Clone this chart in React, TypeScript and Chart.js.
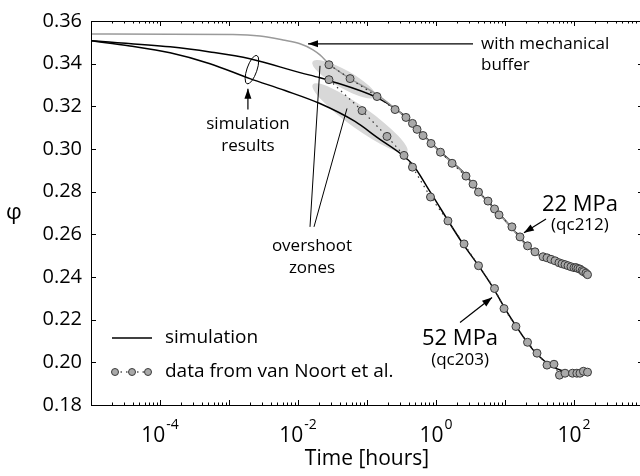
import React, { useEffect, useRef } from "react";
import { Chart, registerables } from "chart.js";
Chart.register(...registerables);

const FONT = "'Open Sans', 'DejaVu Sans', sans-serif";

// ---- data (time in hours, porosity phi) ----
const sim22T = [1e-5, 1.4e-4, 5.31e-4, 2.01e-3, 0.0107, 0.0208, 0.0291, 0.1396, 0.2548, 0.449, 0.649, 1.14, 2.63, 4.34, 7.16, 12.6, 21.5, 35.6, 62.6, 96.8, 154];
const sim22Phi = [0.3507, 0.3479, 0.3455, 0.3423, 0.3358, 0.3334, 0.332, 0.3241, 0.319, 0.3124, 0.3068, 0.2989, 0.2882, 0.2793, 0.2719, 0.263, 0.2542, 0.249, 0.2462, 0.2444, 0.2425];

const sim52T = [1e-5, 3.67e-5, 1.4e-4, 5.31e-4, 2.01e-3, 6.49e-3, 0.0208, 0.067, 0.154, 0.301, 0.464, 0.819, 2.46, 4.13, 6.82, 10, 14.9, 21.5, 30.1, 44.9, 69.3, 100, 171];
const sim52Phi = [0.3507, 0.3483, 0.3451, 0.34, 0.333, 0.3274, 0.3213, 0.3129, 0.3045, 0.298, 0.2925, 0.28, 0.2555, 0.2453, 0.2346, 0.2252, 0.2164, 0.2089, 0.2033, 0.1987, 0.1959, 0.1949, 0.1949];

const bufferT = [1e-5, 1.14e-3, 2.81e-3, 6.07e-3, 0.0107, 0.0165, 0.0208, 0.0291, 0.0568, 0.1396, 0.2548, 0.449, 0.649, 1.14, 2.63, 4.34, 7.16, 12.6, 21.5, 35.6, 62.6, 96.8, 157];
const bufferPhi = [0.3539, 0.3537, 0.353, 0.3511, 0.3493, 0.3465, 0.3441, 0.3395, 0.333, 0.3255, 0.319, 0.3122, 0.3066, 0.2987, 0.288, 0.2791, 0.2717, 0.2628, 0.254, 0.249, 0.2465, 0.245, 0.2439];

const qc212T = [0.0281, 0.0568, 0.1396, 0.255, 0.367, 0.456, 0.531, 0.649, 0.847, 1.16, 1.71, 2.72, 3.44, 4.13, 5.67, 7.05, 8.19, 12.6, 16.5, 21.2, 27.2, 35.6, 40.6, 46.4, 53.1, 60.6, 67.0, 74.1, 81.9, 90.5, 100, 107, 114, 122, 131, 137, 149, 157];
const qc212Phi = [0.3395, 0.333, 0.3246, 0.3185, 0.3148, 0.312, 0.3092, 0.3063, 0.3026, 0.2985, 0.2933, 0.2873, 0.2835, 0.2798, 0.2756, 0.2719, 0.2691, 0.2635, 0.2588, 0.2546, 0.2518, 0.2495, 0.249, 0.2483, 0.2476, 0.2467, 0.2462, 0.2458, 0.2453, 0.2448, 0.2444, 0.2444, 0.244, 0.2437, 0.243, 0.2425, 0.2418, 0.2411];

const qc203T = [0.0281, 0.0848, 0.195, 0.344, 0.456, 0.832, 1.49, 2.55, 4.13, 7.05, 9.68, 14.4, 21.2, 29.1, 40.6, 51.3, 61.6, 74.1, 95.1, 110, 122, 137, 157];
const qc203Phi = [0.3325, 0.318, 0.3059, 0.297, 0.2915, 0.2775, 0.2663, 0.2555, 0.2453, 0.2346, 0.2252, 0.2168, 0.2094, 0.2043, 0.1987, 0.1991, 0.194, 0.1949, 0.1949, 0.1949, 0.1949, 0.1958, 0.1954];

const yTickValues = [0.18, 0.2, 0.22, 0.24, 0.26, 0.28, 0.3, 0.32, 0.34, 0.36];
const xTickExponents = [-4, -2, 0, 2];
const xAxisTitle = "Time [hours]";
const yAxisTitle = "φ";

const pts = (t: number[], p: number[]) => t.map((v, i) => ({ x: v, y: p[i] }));

function arrowHead(ctx: CanvasRenderingContext2D, x1: number, y1: number, x2: number, y2: number, len = 10, w = 3.5) {
  const a = Math.atan2(y2 - y1, x2 - x1);
  ctx.beginPath();
  ctx.moveTo(x2, y2);
  ctx.lineTo(x2 - len * Math.cos(a) + w * Math.sin(a), y2 - len * Math.sin(a) - w * Math.cos(a));
  ctx.lineTo(x2 - len * Math.cos(a) - w * Math.sin(a), y2 - len * Math.sin(a) + w * Math.cos(a));
  ctx.closePath();
  ctx.fill();
}

const decoPlugin = {
  id: "deco",
  beforeDatasetsDraw(chart: any) {
    const { ctx, scales } = chart;
    const X = (t: number) => scales.x.getPixelForValue(t);
    const Y = (p: number) => scales.y.getPixelForValue(p);
    const zones = [
      { t: 0.0464, p: 0.3327, rx: 36, ry: 9, rot: 29 },
      { t: 0.0792, p: 0.3145, rx: 58, ry: 11, rot: 35.5 },
    ];
    ctx.save();
    ctx.fillStyle = "#d8d8d8";
    zones.forEach((z) => {
      ctx.beginPath();
      ctx.ellipse(X(z.t), Y(z.p), z.rx, z.ry, (z.rot * Math.PI) / 180, 0, Math.PI * 2);
      ctx.fill();
    });
    ctx.restore();
  },
  afterDraw(chart: any) {
    const { ctx, chartArea: ca, scales } = chart;
    const X = (t: number) => scales.x.getPixelForValue(t);
    const Y = (p: number) => scales.y.getPixelForValue(p);
    ctx.save();
    // frame
    ctx.strokeStyle = "#000";
    ctx.lineWidth = 1;
    ctx.strokeRect(Math.round(ca.left) + 0.5, Math.round(ca.top) + 0.5, ca.right - ca.left, ca.bottom - ca.top);
    // x ticks
    ctx.beginPath();
    for (let n = -5; n <= 2; n++) {
      for (let k = 1; k <= 9; k++) {
        const v = k * Math.pow(10, n);
        const px = Math.round(X(v)) + 0.5;
        if (px < ca.left + 1 || px > ca.right - 1) continue;
        const L = k === 1 ? 5 : 2.5;
        ctx.moveTo(px, ca.bottom);
        ctx.lineTo(px, ca.bottom - L);
        ctx.moveTo(px, ca.top);
        ctx.lineTo(px, ca.top + L);
      }
    }
    // y ticks
    yTickValues.forEach((v) => {
      const py = Math.round(Y(v)) + 0.5;
      ctx.moveTo(ca.left, py);
      ctx.lineTo(ca.left + 5, py);
      ctx.moveTo(ca.right, py);
      ctx.lineTo(ca.right - 5, py);
    });
    ctx.stroke();

    // x tick labels with superscripts
    ctx.fillStyle = "#000";
    ctx.textBaseline = "alphabetic";
    ctx.textAlign = "left";
    xTickExponents.forEach((e) => {
      const px = X(Math.pow(10, e));
      ctx.font = `21px ${FONT}`;
      const wb = ctx.measureText("10").width;
      ctx.font = `14px ${FONT}`;
      const sup = String(e);
      const we = ctx.measureText(sup).width;
      const start = px - (wb + we + 1) / 2;
      ctx.font = `21px ${FONT}`;
      ctx.fillText("10", start, ca.bottom + 37);
      ctx.font = `14px ${FONT}`;
      ctx.fillText(sup, start + wb + 1, ca.bottom + 24);
    });

    // y axis title (upright)
    ctx.font = `22px ${FONT}`;
    ctx.textAlign = "center";
    ctx.textBaseline = "middle";
    ctx.fillText(yAxisTitle, 14, (ca.top + ca.bottom) / 2);

    // annotation texts
    const texts = [
      { s: "with mechanical", t: 4.49, p: 0.3469, a: "left", f: 17 },
      { s: "buffer", t: 4.49, p: 0.3372, a: "left", f: 17 },
      { s: "simulation", t: 1.88e-3, p: 0.3092, a: "center", f: 17 },
      { s: "results", t: 1.88e-3, p: 0.2989, a: "center", f: 17 },
      { s: "overshoot", t: 0.01596, p: 0.2523, a: "center", f: 17 },
      { s: "zones", t: 0.01596, p: 0.242, a: "center", f: 17 },
      { s: "22 MPa", t: 122, p: 0.2709, a: "center", f: 22 },
      { s: "(qc212)", t: 122, p: 0.2621, a: "center", f: 17 },
      { s: "52 MPa", t: 2.23, p: 0.208, a: "center", f: 22 },
      { s: "(qc203)", t: 2.23, p: 0.1987, a: "center", f: 17 },
    ];
    ctx.textBaseline = "alphabetic";
    texts.forEach((o) => {
      ctx.font = `${o.f}px ${FONT}`;
      ctx.textAlign = o.a as CanvasTextAlign;
      ctx.fillText(o.s, X(o.t), Y(o.p));
    });

    // arrows
    ctx.lineWidth = 1.2;
    const arrows = [
      [3.44, 0.3493, 0.01396, 0.3493],
      [1.88e-3, 0.3185, 1.88e-3, 0.3283],
      [39.3, 0.2672, 18.8, 0.2607],
      [2.23, 0.2187, 6.49, 0.2304],
    ];
    arrows.forEach(([t1, p1, t2, p2]) => {
      const x1 = X(t1), y1 = Y(p1), x2 = X(t2), y2 = Y(p2);
      ctx.beginPath();
      ctx.moveTo(x1, y1);
      ctx.lineTo(x2, y2);
      ctx.stroke();
      arrowHead(ctx, x1, y1, x2, y2);
    });
    // overshoot pointer lines
    const lines = [
      [0.01493, 0.2635, 0.02084, 0.339],
      [0.01706, 0.2635, 0.0513, 0.319],
    ];
    ctx.lineWidth = 1;
    lines.forEach(([t1, p1, t2, p2]) => {
      ctx.beginPath();
      ctx.moveTo(X(t1), Y(p1));
      ctx.lineTo(X(t2), Y(p2));
      ctx.stroke();
    });
    // ellipse around simulation results
    ctx.beginPath();
    ctx.ellipse(X(2.15e-3), Y(0.3372), 5, 15, (19 * Math.PI) / 180, 0, Math.PI * 2);
    ctx.stroke();

    // legend
    const lx = ca.left;
    const r1 = ca.bottom - 67;
    const r2 = ca.bottom - 33;
    ctx.lineWidth = 1.5;
    ctx.beginPath();
    ctx.moveTo(lx + 21, r1);
    ctx.lineTo(lx + 61, r1);
    ctx.stroke();
    ctx.lineWidth = 1.2;
    ctx.setLineDash([1.5, 4]);
    ctx.beginPath();
    ctx.moveTo(lx + 24, r2);
    ctx.lineTo(lx + 57, r2);
    ctx.stroke();
    ctx.setLineDash([]);
    [24, 41, 57].forEach((dx) => {
      ctx.beginPath();
      ctx.arc(lx + dx, r2, 3.5, 0, Math.PI * 2);
      ctx.fillStyle = "#a9a9a9";
      ctx.fill();
      ctx.strokeStyle = "#3a3a3a";
      ctx.lineWidth = 1;
      ctx.stroke();
    });
    ctx.fillStyle = "#000";
    ctx.font = `19px ${FONT}`;
    ctx.textAlign = "left";
    ctx.textBaseline = "middle";
    ctx.fillText("simulation", lx + 74, r1);
    ctx.fillText("data from van Noort et al.", lx + 74, r2);
    ctx.restore();
  },
};

export default function App() {
  const ref = useRef<HTMLCanvasElement>(null);
  useEffect(() => {
    if (!ref.current) return;
    const markers = {
      borderColor: "#333",
      borderWidth: 1.2,
      borderDash: [1.5, 4],
      pointRadius: 4,
      pointBackgroundColor: "#a9a9a9",
      pointBorderColor: "#3a3a3a",
      pointBorderWidth: 1,
      fill: false,
      tension: 0,
    };
    const simLine = {
      pointRadius: 0,
      borderWidth: 1.5,
      fill: false,
      cubicInterpolationMode: "monotone" as const,
    };
    const chart = new Chart(ref.current, {
      type: "line",
      data: {
        datasets: [
          { label: "qc212", data: pts(qc212T, qc212Phi), ...markers },
          { label: "qc203", data: pts(qc203T, qc203Phi), ...markers },
          { label: "with mechanical buffer", data: pts(bufferT, bufferPhi), borderColor: "#9a9a9a", ...simLine },
          { label: "simulation 22 MPa", data: pts(sim22T, sim22Phi), borderColor: "#000", ...simLine },
          { label: "simulation 52 MPa", data: pts(sim52T, sim52Phi), borderColor: "#000", ...simLine },
        ],
      },
      options: {
        animation: false,
        responsive: false,
        devicePixelRatio: 1,
        layout: { padding: { left: 0, right: 7, top: 19, bottom: 0 } },
        plugins: { legend: { display: false }, tooltip: { enabled: false } },
        scales: {
          x: {
            type: "logarithmic",
            min: 1e-5,
            max: 1e3,
            grid: { display: false, drawTicks: false, tickLength: 0 },
            border: { display: false },
            ticks: { display: false },
            title: {
              display: true,
              text: xAxisTitle,
              color: "#000",
              font: { family: FONT, size: 21 },
              padding: { top: 0, bottom: 4 },
            },
            afterFit: (s: any) => {
              s.height = 71;
            },
          },
          y: {
            type: "linear",
            min: 0.18,
            max: 0.36,
            grid: { display: false, drawTicks: false, tickLength: 0 },
            border: { display: false },
            ticks: {
              padding: 9,
              color: "#000",
              font: { family: FONT, size: 20 },
              callback: (v: any) => Number(v).toFixed(2),
            },
            afterBuildTicks: (s: any) => {
              s.ticks = yTickValues.map((v) => ({ value: v }));
            },
            afterFit: (s: any) => {
              s.width = 91;
            },
          },
        },
      },
      plugins: [decoPlugin],
    });
    return () => chart.destroy();
  }, []);
  return (
    <div style={{ position: "fixed", left: 0, top: 0, width: 640, height: 476, overflow: "hidden", background: "#fff" }}>
      <canvas ref={ref} width={650} height={476} style={{ display: "block" }} />
    </div>
  );
}
